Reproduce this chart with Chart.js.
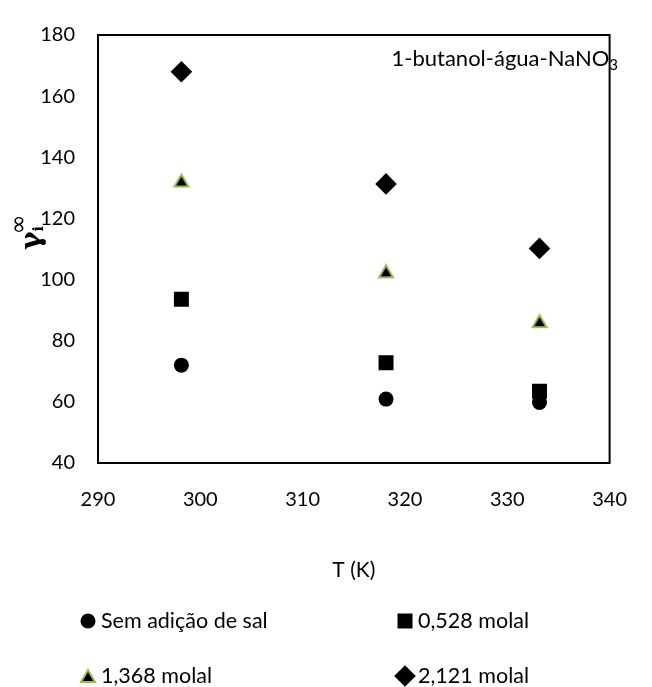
<!DOCTYPE html>
<html>
<head>
<meta charset="utf-8">
<script src="https://cdn.jsdelivr.net/npm/chart.js@4/dist/chart.umd.min.js"></script>
<style>
  body { margin: 0; background: #fff; }
</style>
</head>
<body>
<canvas id="gammaChart" width="652" height="687"></canvas>
<script>
  // data
  let temps = [298.15, 318.15, 333.15]
  let semSal = [72.0, 60.9, 59.8]
  let m0528 = [93.6, 72.8, 63.5]
  let m1368 = [132.4, 102.7, 86.4]
  let m2121 = [168.0, 131.3, 110.2]
  let seriesNames = ['Sem adição de sal', '0,528 molal', '1,368 molal', '2,121 molal']
  let xTicks = [290, 300, 310, 320, 330, 340]
  let yTicks = [40, 60, 80, 100, 120, 140, 160, 180]

  let fontFamily = 'Lato, "Open Sans", sans-serif'

  function points(ys) {
    return temps.map((t, i) => ({ x: t, y: ys[i] }))
  }

  // excel style triangle: black with a green edge, centred on its box
  function triangleMark() {
    let c = document.createElement('canvas')
    c.width = 18
    c.height = 16
    let g = c.getContext('2d')
    g.beginPath()
    g.moveTo(9, 2)
    g.lineTo(16, 14)
    g.lineTo(2, 14)
    g.closePath()
    g.fillStyle = '#000'
    g.fill()
    g.strokeStyle = '#9BBB59'
    g.lineWidth = 2
    g.stroke()
    return c
  }

  let extras = {
    id: 'extras',
    beforeDatasetsDraw(chart) {
      let ctx = chart.ctx
      let a = chart.chartArea
      ctx.save()
      ctx.strokeStyle = '#000'
      ctx.lineWidth = 2
      ctx.strokeRect(a.left, a.top, a.right - a.left, a.bottom - a.top)
      ctx.restore()
    },
    afterDraw(chart) {
      let ctx = chart.ctx
      ctx.save()
      ctx.fillStyle = '#000'
      ctx.textBaseline = 'alphabetic'

      // label inside the plot, top right
      ctx.font = '15px ' + fontFamily
      let w3 = ctx.measureText('3').width
      ctx.textAlign = 'left'
      ctx.fillText('3', 618 - w3, 70)
      ctx.font = '22px ' + fontFamily
      ctx.textAlign = 'right'
      ctx.fillText('1-butanol-água-NaNO', 618 - w3, 66)

      // y title: gamma with i and infinity, turned upward
      ctx.save()
      ctx.translate(40, 250)
      ctx.rotate(-Math.PI / 2)
      ctx.textAlign = 'left'
      ctx.font = 'bold 28px "DejaVu Serif", serif'
      ctx.fillText('γ', 0, 0)
      let wg = ctx.measureText('γ').width
      ctx.font = 'bold 14px "DejaVu Serif", serif'
      ctx.fillText('i', wg, 3)
      ctx.font = '24px "DejaVu Sans", sans-serif'
      ctx.fillText('∞', wg - 3, -14)
      ctx.restore()

      // legend, two columns
      let colX = [88, 405]
      let rowY = [621, 676]
      chart.data.datasets.forEach((ds, i) => {
        let x = colX[i % 2]
        let y = rowY[Math.floor(i / 2)]
        ctx.fillStyle = ds.backgroundColor
        ctx.strokeStyle = ds.borderColor
        ctx.lineWidth = ds.borderWidth
        Chart.helpers.drawPoint(ctx, {
          pointStyle: ds.pointStyle,
          radius: ds.pointRadius,
          rotation: 0,
          borderWidth: ds.borderWidth
        }, x, y)
        ctx.fillStyle = '#000'
        ctx.font = '21.5px ' + fontFamily
        ctx.textAlign = 'left'
        ctx.textBaseline = 'middle'
        ctx.fillText(ds.label, x + 13, y)
      })
      ctx.restore()
    }
  }

  let ctx = document.getElementById('gammaChart').getContext('2d')

  let gammaChart = new Chart(ctx, {
    type: 'scatter',
    data: {
      datasets: [{
        label: seriesNames[0],
        data: points(semSal),
        pointStyle: 'circle',
        pointRadius: 7.5,
        backgroundColor: '#000',
        borderColor: '#000',
        borderWidth: 0
      }, {
        label: seriesNames[1],
        data: points(m0528),
        pointStyle: 'rect',
        pointRadius: 10.6,
        backgroundColor: '#000',
        borderColor: '#000',
        borderWidth: 0
      }, {
        label: seriesNames[2],
        data: points(m1368),
        pointStyle: triangleMark(),
        pointRadius: 8,
        backgroundColor: '#000',
        borderColor: '#9BBB59',
        borderWidth: 0
      }, {
        label: seriesNames[3],
        data: points(m2121),
        pointStyle: 'rectRot',
        pointRadius: 10.8,
        backgroundColor: '#000',
        borderColor: '#000',
        borderWidth: 0
      }]
    },
    options: {
      responsive: false,
      animation: false,
      devicePixelRatio: 1,
      layout: { padding: { left: 0, right: 20, top: 20, bottom: 104 } },
      plugins: {
        legend: { display: false },
        tooltip: { enabled: false }
      },
      elements: { point: { hoverRadius: 0 } },
      scales: {
        x: {
          type: 'linear',
          min: xTicks[0],
          max: xTicks[xTicks.length - 1],
          ticks: {
            stepSize: xTicks[1] - xTicks[0],
            color: '#000',
            padding: 25,
            font: { family: fontFamily, size: 20 }
          },
          grid: { display: false, drawTicks: false },
          border: { display: false },
          title: {
            display: true,
            text: 'T (K)',
            color: '#000',
            padding: 0,
            font: { family: fontFamily, size: 21 }
          },
          afterFit: (scale) => { scale.height = 120 }
        },
        y: {
          type: 'linear',
          min: yTicks[0],
          max: yTicks[yTicks.length - 1],
          ticks: {
            stepSize: yTicks[1] - yTicks[0],
            color: '#000',
            padding: 23,
            font: { family: fontFamily, size: 20 }
          },
          grid: { display: false, drawTicks: false },
          border: { display: false },
          afterFit: (scale) => { scale.width = 98 }
        }
      }
    },
    plugins: [extras]
  })
</script>
</body>
</html>
